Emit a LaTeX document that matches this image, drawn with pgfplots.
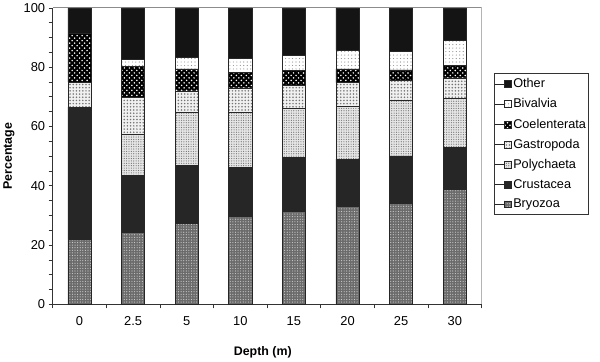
\documentclass[border=0pt]{standalone}
\usepackage{fontspec}
\setmainfont{Liberation Sans}
\usepackage{pgfplots}
\usepackage{pgfplotstable}
\pgfplotsset{compat=1.18}
\usetikzlibrary{patterns.meta}

\pgfplotstableread{
x bry cru pol gas coe biv oth
0 22.0 44.5 0.0 8.5 16.3 0.0 8.7
1 24.4 19.0 13.9 12.5 10.4 2.4 17.4
2 27.4 19.4 18.0 7.2 7.4 3.8 16.8
3 29.6 16.7 18.4 8.3 5.2 4.7 17.1
4 31.5 18.2 16.5 7.7 4.9 5.1 16.1
5 33.0 16.0 17.7 8.1 4.6 6.3 14.3
6 34.0 16.1 18.9 6.5 3.6 6.2 14.7
7 38.7 14.3 16.4 7.0 4.2 8.4 11.0
}\data

\tikzset{
 sbry/.style={fill=black!58, postaction={pattern={Dots[distance=2.6bp,radius=0.6bp]}, pattern color=white!80!black}},
 scru/.style={fill=black!85},
 spol/.style={fill=black!10, postaction={pattern={Dots[distance=2.4bp,radius=0.6bp]}, pattern color=black!55}},
 sgas/.style={fill=black!6, postaction={pattern={Dots[distance=3.2bp,radius=0.85bp]}, pattern color=black!55}},
 scoe/.style={fill=black, postaction={pattern={Dots[distance=5bp,radius=0.85bp]}, pattern color=white}, postaction={pattern={Dots[distance=5bp,radius=0.85bp,xshift=2.5bp,yshift=2.5bp]}, pattern color=white}},
 sbiv/.style={fill=white, postaction={pattern={Dots[distance=3.5bp,radius=0.6bp]}, pattern color=black!45}},
 soth/.style={fill=black!92},
}

\begin{document}
\begin{tikzpicture}
\begin{axis}[
 scale only axis,
 width=431bp, height=298bp,
 xmin=-0.5, xmax=7.5,
 ymin=0, ymax=100,
 ybar stacked, bar width=0.43,
 axis x line*=bottom, axis y line*=left,
 axis line style={draw=black!80, line width=0.8bp},
 tick align=outside,
 major tick length=4bp, minor tick length=4bp,
 tick style={draw=black!80, line width=0.7bp},
 ytick={0,20,...,100}, minor y tick num=3,
 xtick={-0.5,0.5,...,7.5}, xticklabels={},
 extra x ticks={0,1,2,3,4,5,6,7},
 extra x tick labels={0,2.5,5,10,15,20,25,30},
 extra x tick style={major tick length=0pt, tick label style={yshift=-9bp}},
 tick label style={font=\fontsize{13}{15}\selectfont},
 /pgf/number format/assume math mode=true,
 ylabel={\bfseries Percentage},
 xlabel={\bfseries Depth (m)},
 label style={font=\fontsize{12.5}{15}\selectfont},
 ylabel style={at={(axis description cs:-0.102,0.5)}, anchor=center},
 xlabel style={at={(axis description cs:0.49,-0.162)}, anchor=center},
 every axis plot/.append style={draw=black!85, line width=0.6bp},
 reverse legend,
 legend style={at={(1.028,0.779)}, anchor=north west, draw=black!80, line width=0.6bp,
   font=\fontsize{12.8}{15}\selectfont, row sep=5.5bp, inner xsep=1bp, inner ysep=3bp,
   text width=72bp, cells={anchor=west}},
 legend image code/.code={\path (0bp,0bp) -- (15bp,0bp); \draw[#1, line width=0.4bp] (9bp,-3.5bp) rectangle (16bp,3.5bp);},
 legend cell align=left,
]
\addplot[sbry] table[x=x,y=bry]{\data};
\addplot[scru] table[x=x,y=cru]{\data};
\addplot[spol] table[x=x,y=pol]{\data};
\addplot[sgas] table[x=x,y=gas]{\data};
\addplot[scoe] table[x=x,y=coe]{\data};
\addplot[sbiv] table[x=x,y=biv]{\data};
\addplot[soth] table[x=x,y=oth]{\data};
\legend{Bryozoa,Crustacea,Polychaeta,Gastropoda,Coelenterata,Bivalvia,Other}
\draw[black!45, line width=0.8bp] (rel axis cs:0,1) -- (rel axis cs:1,1) -- (rel axis cs:1,0);
\end{axis}
\useasboundingbox (-50bp,-55bp) rectangle (550bp,304bp);
\end{tikzpicture}
\end{document}
